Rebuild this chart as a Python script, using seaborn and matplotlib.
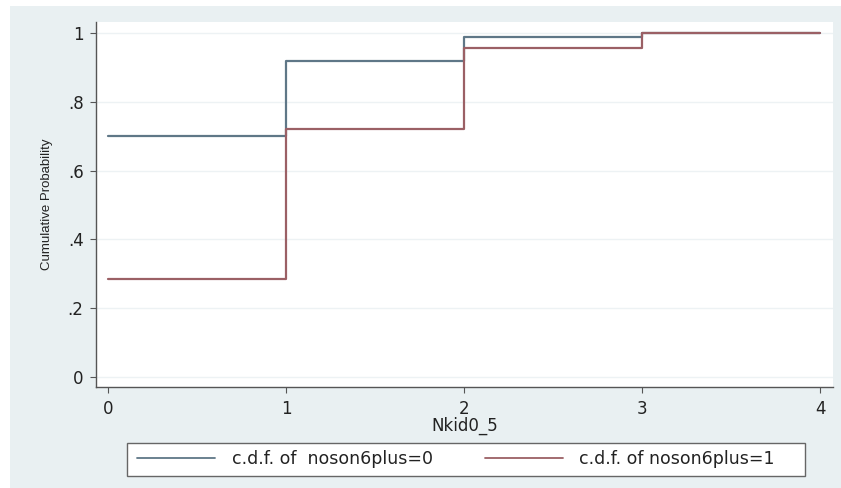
import matplotlib
matplotlib.use("Agg")
import matplotlib.pyplot as plt
import seaborn as sns
import pandas as pd
from matplotlib.patches import Rectangle

# Data
nkid = [0, 1, 2, 3, 4]
cdf_noson0 = [0.70, 0.918, 0.988, 1.0, 1.0]
cdf_noson1 = [0.285, 0.722, 0.955, 1.0, 1.0]
series_labels = ["c.d.f. of  noson6plus=0", "c.d.f. of noson6plus=1"]
ytick_vals = [0, 0.2, 0.4, 0.6, 0.8, 1.0]
ytick_labels = ["0", ".2", ".4", ".6", ".8", "1"]
xtick_vals = [0, 1, 2, 3, 4]

df = pd.DataFrame({
    "Nkid0_5": nkid * 2,
    "cdf": cdf_noson0 + cdf_noson1,
    "series": [series_labels[0]] * len(nkid) + [series_labels[1]] * len(nkid),
})

sns.set_style("white")
plt.rcParams["font.family"] = ["DejaVu Sans"]

W, H = 841, 488
fig = plt.figure(figsize=(W / 100, H / 100), dpi=100)
fig.patch.set_facecolor("white")
bg = "#e9f0f2"
fig.patches.append(Rectangle((10 / W, 0), 1 - 10 / W, 1 - 6 / H,
                             transform=fig.transFigure, facecolor=bg,
                             edgecolor="none", zorder=-10))

ax = fig.add_axes([96 / W, 1 - 387 / H, (833 - 96) / W, (387 - 22) / H])
ax.set_facecolor("white")

palette = {series_labels[0]: "#5f7787", series_labels[1]: "#9b6065"}
sns.lineplot(data=df, x="Nkid0_5", y="cdf", hue="series", palette=palette,
             drawstyle="steps-post", linewidth=1.6, ax=ax, legend=False)

x0 = 108; x_unit = (820 - 108) / 4
ax.set_xlim((96 - x0) / x_unit, (833 - x0) / x_unit)
ax.set_ylim(-10 / 344, 1 + 11 / 344)

ax.set_yticks(ytick_vals)
ax.set_yticklabels(ytick_labels)
ax.set_xticks(xtick_vals)
ax.set_xticklabels([str(v) for v in xtick_vals])

for y in ytick_vals:
    ax.axhline(y, color="#edf2f4", linewidth=1.0, zorder=0)

for s in ["top", "right"]:
    ax.spines[s].set_visible(False)
for s in ["left", "bottom"]:
    ax.spines[s].set_color("#555555")
    ax.spines[s].set_linewidth(1.0)

ax.tick_params(axis="both", direction="out", width=0.8,
               color="#555555", labelsize=12, labelcolor="#222222",
               left=True, bottom=True)
ax.tick_params(axis="y", length=4.5, pad=4.5)
ax.tick_params(axis="x", length=4, pad=5.5)

ax.set_xlabel("Nkid0_5", fontsize=12, color="#222222", labelpad=-1)
ax.set_ylabel("Cumulative Probability", fontsize=9.5, color="#222222",
              family=["Liberation Sans", "DejaVu Sans"])
ax.yaxis.set_label_coords(-0.058, 0.5)

# legend frame drawn explicitly
fig.patches.append(Rectangle((127 / W, 1 - 476 / H), (805 - 127) / W, (476 - 443) / H,
                             transform=fig.transFigure, facecolor="white",
                             edgecolor="#666666", linewidth=1.0, zorder=1))
handles = [plt.Line2D([], [], color=palette[l], linewidth=1.3) for l in series_labels]
leg = fig.legend(handles, series_labels, loc="center left", ncol=2,
                 bbox_to_anchor=(137 / W, 1 - 459.5 / H),
                 bbox_transform=fig.transFigure, fontsize=12.5, frameon=False,
                 handlelength=4.5, handletextpad=0.95, columnspacing=3.0,
                 borderpad=0, borderaxespad=0)
leg.set_zorder(2)
for t in leg.get_texts():
    t.set_color("#222222")

fig.savefig("out.png", dpi=100, facecolor=fig.get_facecolor())
